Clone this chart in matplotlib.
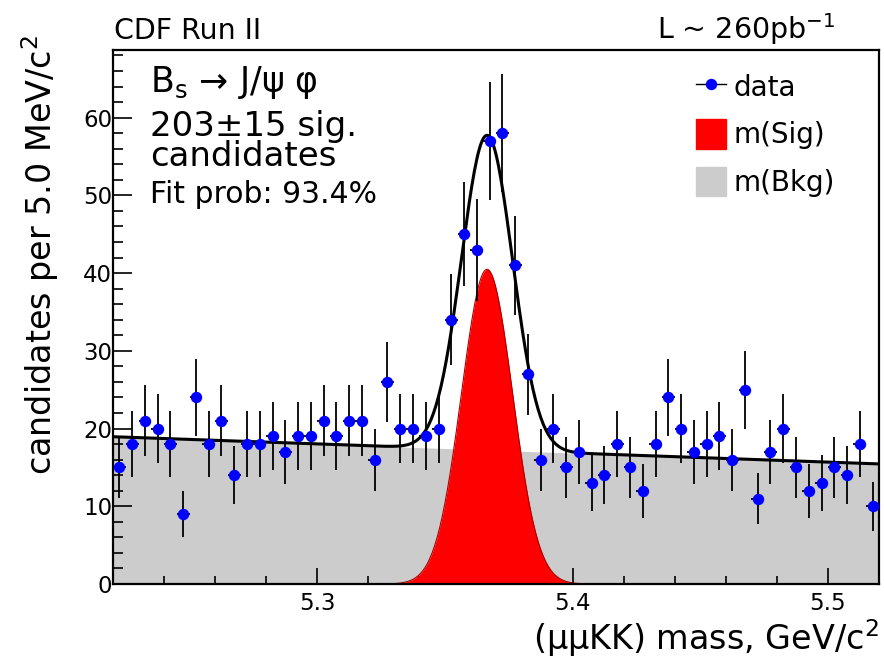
import numpy as np
import matplotlib.pyplot as plt
from matplotlib.lines import Line2D
from matplotlib.patches import Patch
from matplotlib.ticker import MultipleLocator

# histogram binning, (mumuKK) mass in GeV/c^2
mass_lo = 5.22
mass_hi = 5.52
bin_w = 0.005

# candidates per 5 MeV bin
counts = [15, 18, 21, 20, 18, 9, 24, 18, 21, 14,
          18, 18, 19, 17, 19, 19, 21, 19, 21, 21,
          16, 26, 20, 20, 19, 20, 34, 45, 43, 57,
          58, 41, 27, 16, 20, 15, 17, 13, 14, 18,
          15, 12, 18, 24, 20, 17, 18, 19, 16, 25,
          11, 17, 20, 15, 12, 13, 15, 14, 18, 10]

# fit result (gaussian signal + linear background)
sig_yield = 203
sig_mean = 5.3665
sig_width = 0.0100
bkg_at_lo = 18.95
bkg_at_hi = 15.45

centers = mass_lo + bin_w * (np.arange(len(counts)) + 0.5)
errs = np.sqrt(counts)

xs = np.linspace(mass_lo, mass_hi, 601)
sig = sig_yield * bin_w / (sig_width * np.sqrt(2 * np.pi)) * np.exp(-0.5 * ((xs - sig_mean) / sig_width) ** 2)
bkg = bkg_at_lo + (bkg_at_hi - bkg_at_lo) * (xs - mass_lo) / (mass_hi - mass_lo)

fig = plt.figure(figsize=(8.84, 6.59), dpi=100)
ax = fig.add_axes([0.1278, 0.1138, 0.8665, 0.8103])

ax.fill_between(xs, 0, bkg, color='#cccccc', lw=0, zorder=1)
ax.fill_between(xs, 0, sig, color='red', lw=0, zorder=2)
ax.plot(xs, sig, color='#aa0000', lw=0.8, zorder=2)
ax.plot(xs, sig + bkg, color='black', lw=2.2, zorder=3)
ax.errorbar(centers, counts, yerr=errs, xerr=bin_w / 2, fmt='o', color='blue',
            ms=7.2, ecolor='black', elinewidth=1.3, capsize=0, zorder=5)

ax.set_xlim(mass_lo, mass_hi)
ax.set_ylim(0, 68.7)
ax.set_xticks([5.3, 5.4, 5.5])
ax.set_xticklabels(['5.3', '5.4', '5.5'])
ax.xaxis.set_minor_locator(MultipleLocator(0.02))
ax.set_yticks(range(0, 70, 10))
ax.yaxis.set_minor_locator(MultipleLocator(2))
ax.tick_params(which='both', direction='in', top=False, right=False, width=1.2)
ax.tick_params(axis='y', which='major', length=14, labelsize=16.5, pad=0.5)
ax.tick_params(axis='y', which='minor', length=7.5)
ax.tick_params(axis='x', which='major', length=11.5, labelsize=16.5, pad=6)
ax.tick_params(axis='x', which='minor', length=6)
for s in ax.spines.values():
    s.set_linewidth(1.6)

ax.set_xlabel('(μμKK) mass, GeV/c$^2$', fontsize=24, loc='right', labelpad=1)
ax.set_ylabel('candidates per 5.0 MeV/c$^2$', fontsize=24, loc='top')
ax.yaxis.set_label_coords(-0.068, 1.028)

handles = [Line2D([], [], color='black', lw=1, marker='o', mfc='blue', mec='blue', ms=7.2),
           Patch(color='red'), Patch(color='#cccccc')]
ax.legend(handles, ['data', 'm(Sig)', 'm(Bkg)'], loc='upper left', bbox_to_anchor=(0.761, 0.959),
          fontsize=20, frameon=False, handlelength=1.1, handleheight=1.25,
          handletextpad=0.25, labelspacing=0.63, borderpad=0, borderaxespad=0)

fig.text(114 / 884, 1 - 39 / 659, 'CDF Run II', fontsize=20.5, va='baseline')
fig.text(835 / 884, 1 - 39 / 659, 'L ~ 260pb$^{-1}$', fontsize=20.5, va='baseline', ha='right')
fig.text(150 / 884, 1 - 92 / 659, r'$\mathregular{B_s}$ → J/ψ φ', fontsize=25, va='baseline')
fig.text(150 / 884, 1 - 136 / 659, '203±15 sig.', fontsize=24.5, va='baseline')
fig.text(150 / 884, 1 - 166 / 659, 'candidates', fontsize=24.5, va='baseline')
fig.text(150 / 884, 1 - 203 / 659, 'Fit prob: 93.4%', fontsize=21.5, va='baseline')

fig.savefig('out.png', dpi=100)
